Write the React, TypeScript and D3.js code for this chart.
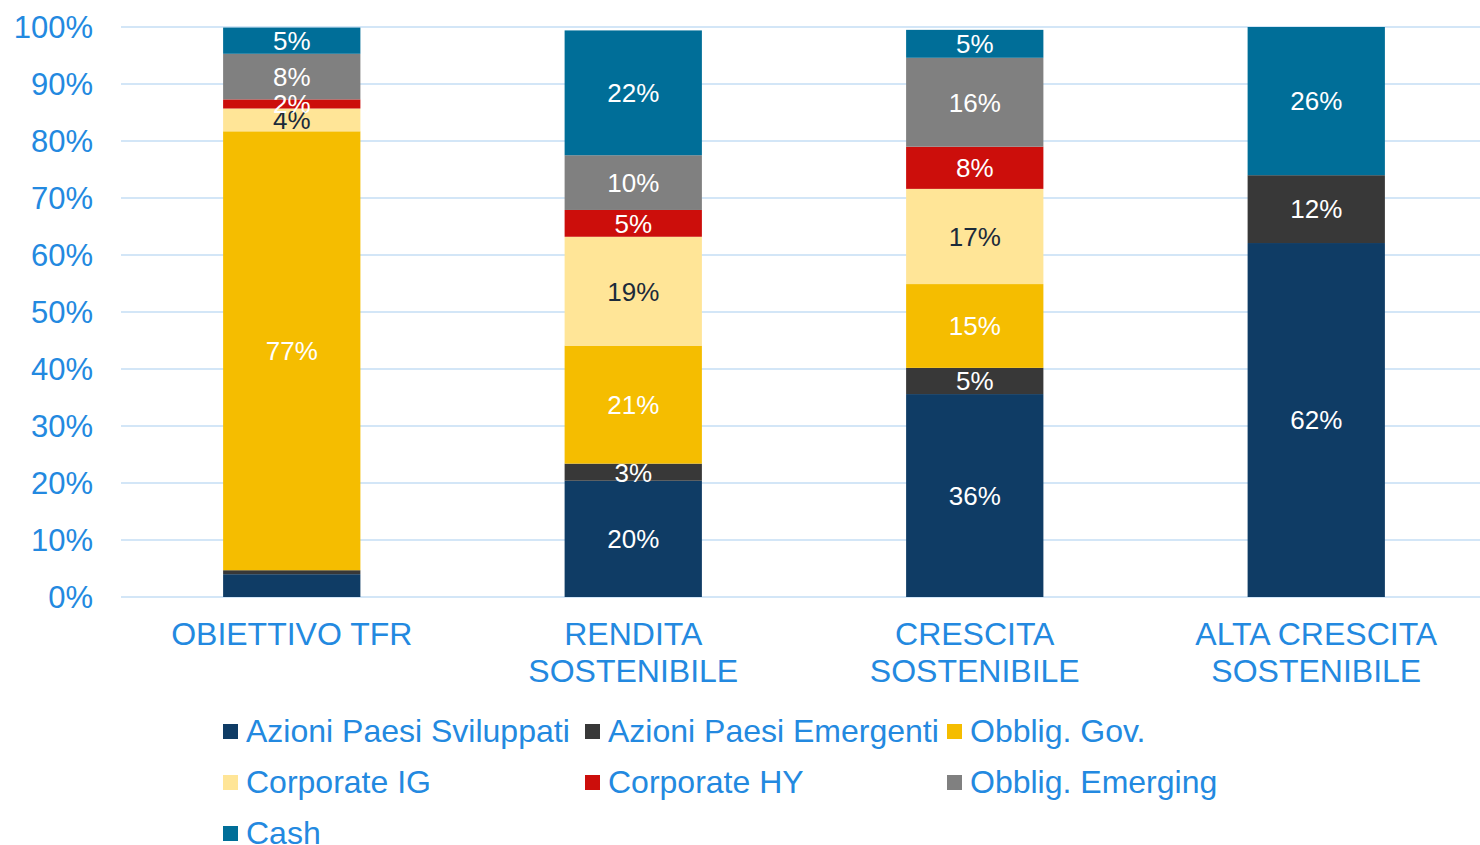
import * as d3 from "d3";

const categories = [
  ["OBIETTIVO TFR"],
  ["RENDITA", "SOSTENIBILE"],
  ["CRESCITA", "SOSTENIBILE"],
  ["ALTA CRESCITA", "SOSTENIBILE"],
];
const seriesNames = [
  "Azioni Paesi Sviluppati",
  "Azioni Paesi Emergenti",
  "Obblig. Gov.",
  "Corporate IG",
  "Corporate HY",
  "Obblig. Emerging",
  "Cash",
];
const colors = ["#0F3C65", "#383838", "#F5BD00", "#FFE597", "#CC0E0B", "#808080", "#006E98"];
const labelColors = ["#fff", "#fff", "#fff", "#1B2A3A", "#fff", "#fff", "#fff"];

// value per series, one entry per category (% of portfolio)
const sviluppati = [4, 20.4, 35.6, 62.1];
const emergenti = [0.7, 3, 4.6, 11.9];
const obbligGov = [77, 20.7, 14.7, 0];
const corporateIG = [4, 19.1, 16.7, 0];
const corporateHY = [1.6, 4.7, 7.4, 0];
const obbligEmerging = [8, 9.6, 15.6, 0];
const cash = [4.6, 21.9, 4.9, 26];
// printed labels (blank = not shown)
const shown = [
  ["", "20%", "36%", "62%"],
  ["", "3%", "5%", "12%"],
  ["77%", "21%", "15%", ""],
  ["4%", "19%", "17%", ""],
  ["2%", "5%", "8%", ""],
  ["8%", "10%", "16%", ""],
  ["5%", "22%", "5%", "26%"],
];
const yTicks = [0, 10, 20, 30, 40, 50, 60, 70, 80, 90, 100];

const values = [sviluppati, emergenti, obbligGov, corporateIG, corporateHY, obbligEmerging, cash];

const W = 1480;
const H = 845;
const FONT = "'Liberation Sans', Arial, sans-serif";
const BLUE = "#2389E0";

export default function App() {
  const rows = categories.map((_, i) => {
    const r: Record<string, number> = {};
    seriesNames.forEach((s, k) => (r[s] = values[k][i]));
    return r;
  });
  const stacked = d3.stack<Record<string, number>>().keys(seriesNames)(rows);

  const x = d3
    .scaleBand<number>()
    .domain(d3.range(categories.length))
    .range([121, 1487])
    .paddingInner(0.598)
    .paddingOuter(0.299);
  const y = d3.scaleLinear().domain([0, 100]).range([597, 27]);

  return (
    <svg width={W} height={H} style={{ position: "absolute", left: 0, top: 0 }} fontFamily={FONT}>
      {yTicks.map((t) => (
        <g key={t}>
          <line x1={121} x2={W} y1={y(t)} y2={y(t)} stroke="#D3E6F7" strokeWidth={2} />
          <text x={93} y={y(t)} dy="0.35em" textAnchor="end" fontSize={31} fill={BLUE}>
            {t}%
          </text>
        </g>
      ))}
      {stacked.map((layer, k) => (
        <g key={layer.key}>
          {layer.map((d, i) => {
            const h = y(d[0]) - y(d[1]);
            if (h <= 0) return null;
            return (
              <rect
                key={i}
                x={x(i)}
                width={x.bandwidth()}
                y={y(d[1])}
                height={h}
                fill={colors[k]}
              />
            );
          })}
        </g>
      ))}
      {stacked.map((layer, k) => (
        <g key={"l" + layer.key}>
          {layer.map((d, i) =>
            shown[k][i] ? (
              <text
                key={i}
                x={x(i)! + x.bandwidth() / 2}
                y={(y(d[0]) + y(d[1])) / 2}
                dy="0.36em"
                textAnchor="middle"
                fontSize={26}
                fill={labelColors[k]}
              >
                {shown[k][i]}
              </text>
            ) : null
          )}
        </g>
      ))}
      {categories.map((lines, i) => (
        <text key={i} textAnchor="middle" fontSize={32} fill={BLUE}>
          {lines.map((ln, j) => (
            <tspan key={j} x={x(i)! + x.bandwidth() / 2} y={634 + j * 37} dy="0.35em">
              {ln}
            </tspan>
          ))}
        </text>
      ))}
      {seriesNames.map((s, k) => {
        const col = k % 3;
        const row = Math.floor(k / 3);
        const lx = 223 + col * 362;
        const ly = 731 + row * 51;
        return (
          <g key={s}>
            <rect x={lx} y={ly - 7} width={15} height={15} fill={colors[k]} />
            <text x={lx + 23} y={ly} dy="0.35em" fontSize={32} fill={BLUE}>
              {s}
            </text>
          </g>
        );
      })}
    </svg>
  );
}
